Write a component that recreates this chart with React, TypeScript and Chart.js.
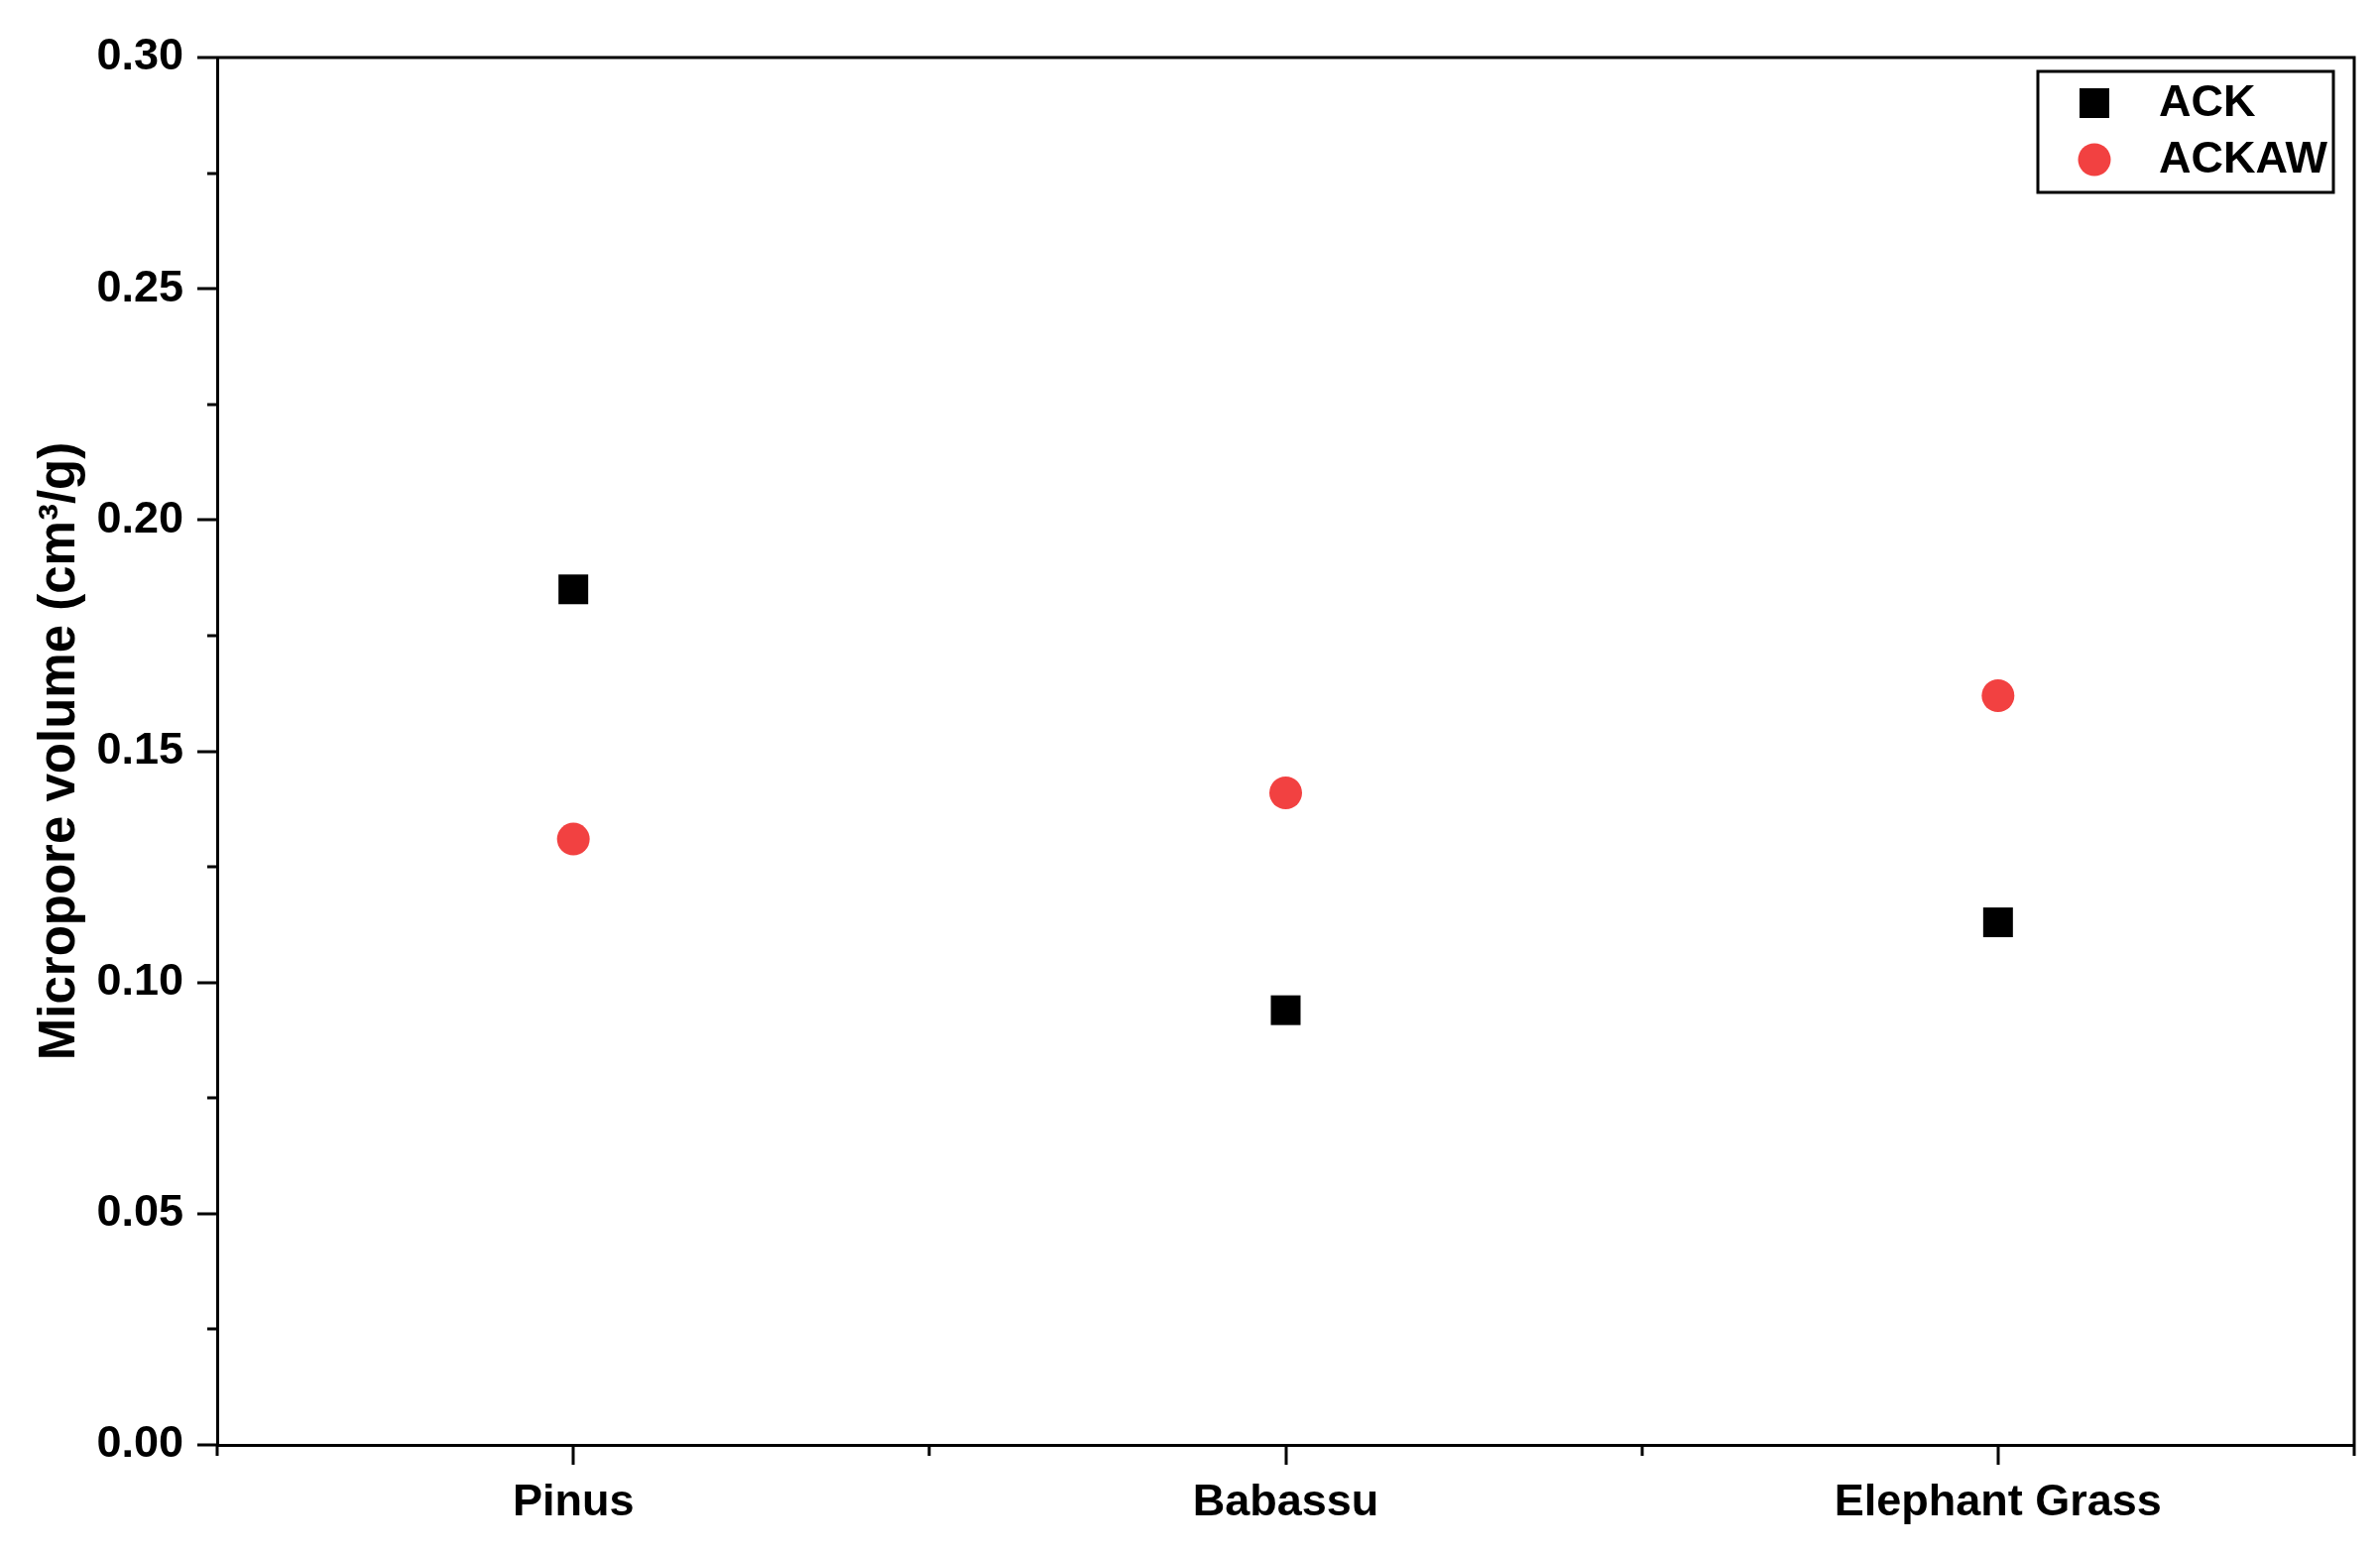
import { useEffect, useRef } from 'react';
import { Chart, registerables } from 'chart.js';

Chart.register(...registerables);

const categories = ['Pinus', 'Babassu', 'Elephant Grass'];
const ackValues = [0.185, 0.094, 0.113];
const ackawValues = [0.131, 0.141, 0.162];
const yTicksMajor = [0, 0.05, 0.1, 0.15, 0.2, 0.25, 0.3];

const FONT = "'Liberation Sans', Arial, sans-serif";
const RED = '#F24141';

// ticks in/out + frame + boxed legend, like the Origin export
const framePlugin = {
  id: 'frame',
  afterDraw(chart: any) {
    const { ctx, chartArea: a, scales } = chart;
    const x = scales.x;
    const y = scales.y;
    ctx.save();
    ctx.strokeStyle = '#000';
    ctx.lineWidth = 3;
    ctx.lineCap = 'butt';

    // top + right frame
    ctx.beginPath();
    ctx.moveTo(a.left, a.top);
    ctx.lineTo(a.right, a.top);
    ctx.lineTo(a.right, a.bottom);
    ctx.stroke();

    // y ticks (outward)
    y.ticks.forEach((t: any) => {
      const major = Math.round(t.value * 1000) % 50 === 0;
      const len = major ? 20 : 10;
      const py = Math.round(y.getPixelForValue(t.value));
      ctx.beginPath();
      ctx.moveTo(a.left - len, py);
      ctx.lineTo(a.left, py);
      ctx.stroke();
    });

    // x ticks (outward)
    x.ticks.forEach((t: any) => {
      const major = Math.abs(t.value - Math.round(t.value)) < 1e-6;
      const len = major ? 20 : 11;
      const px = Math.round(x.getPixelForValue(t.value));
      ctx.beginPath();
      ctx.moveTo(px, a.bottom);
      ctx.lineTo(px, a.bottom + len);
      ctx.stroke();
    });

    // legend box
    const bx = a.right - 319;
    const by = a.top + 14;
    const bw = 298;
    const bh = 122;
    ctx.strokeRect(bx, by, bw, bh);
    ctx.font = `bold 45px ${FONT}`;
    ctx.textBaseline = 'middle';
    ctx.textAlign = 'left';
    chart.data.datasets.forEach((ds: any, i: number) => {
      const cy = by + 32 + i * 57;
      const cx = bx + 57;
      ctx.fillStyle = ds.backgroundColor;
      if (ds.pointStyle === 'rect') {
        ctx.fillRect(cx - 15, cy - 15, 30, 30);
      } else {
        ctx.beginPath();
        ctx.arc(cx, cy, 16.5, 0, Math.PI * 2);
        ctx.fill();
      }
      ctx.fillStyle = '#000';
      ctx.fillText(ds.label, bx + 122, cy + 1);
    });
    ctx.restore();
  },
};

export default function App() {
  const canvasRef = useRef<HTMLCanvasElement>(null);

  useEffect(() => {
    document.body.style.margin = '0';
    if (!canvasRef.current) return;

    const chart = new Chart(canvasRef.current, {
      type: 'scatter',
      data: {
        datasets: [
          {
            label: 'ACK',
            data: ackValues.map((v, i) => ({ x: i + 1, y: v })),
            backgroundColor: '#000',
            borderWidth: 0,
            pointStyle: 'rect',
            pointRadius: 21.2,
            pointHoverRadius: 21.2,
          },
          {
            label: 'ACKAW',
            data: ackawValues.map((v, i) => ({ x: i + 1, y: v })),
            backgroundColor: RED,
            borderWidth: 0,
            pointStyle: 'circle',
            pointRadius: 16.5,
            pointHoverRadius: 16.5,
          },
        ],
      },
      options: {
        responsive: true,
        maintainAspectRatio: false,
        devicePixelRatio: 1,
        animation: false,
        layout: { padding: { left: 0, top: 58, right: 26, bottom: 0 } },
        plugins: {
          legend: { display: false },
          tooltip: { enabled: false },
        },
        scales: {
          x: {
            type: 'linear',
            min: 0.5,
            max: 3.5,
            afterFit: (s: any) => {
              s.height = 111;
            },
            // tick marks drawn by the plugin; tickLength only sets the label gap
            grid: { display: false, drawTicks: true, tickLength: 32 },
            border: { display: true, color: '#000', width: 3 },
            ticks: {
              stepSize: 0.5,
              autoSkip: false,
              maxRotation: 0,
              padding: 0,
              color: '#000',
              font: { family: FONT, size: 45, weight: 'bold' },
              callback: (v: any) => {
                const n = Number(v);
                return Math.abs(n - Math.round(n)) < 1e-6 ? categories[Math.round(n) - 1] ?? '' : '';
              },
            },
          },
          y: {
            min: 0,
            max: 0.3,
            afterFit: (s: any) => {
              s.width = 219;
            },
            grid: { display: false, drawTicks: true, tickLength: 34 },
            border: { display: true, color: '#000', width: 3 },
            ticks: {
              stepSize: 0.025,
              autoSkip: false,
              padding: 0,
              color: '#000',
              font: { family: FONT, size: 45, weight: 'bold' },
              callback: (v: any) => {
                const n = Number(v);
                const hit = yTicksMajor.find((m) => Math.abs(m - n) < 1e-6);
                return hit !== undefined ? hit.toFixed(2) : '';
              },
            },
            title: {
              display: true,
              text: 'Micropore volume (cm³/g)',
              color: '#000',
              padding: { top: 30, bottom: 0 },
              font: { family: FONT, size: 51, weight: 'bold' },
            },
          },
        },
      },
      plugins: [framePlugin],
    });

    return () => {
      chart.destroy();
    };
  }, []);

  return (
    <div style={{ width: 2400, height: 1568, position: 'relative', background: '#fff' }}>
      <canvas ref={canvasRef} />
    </div>
  );
}
